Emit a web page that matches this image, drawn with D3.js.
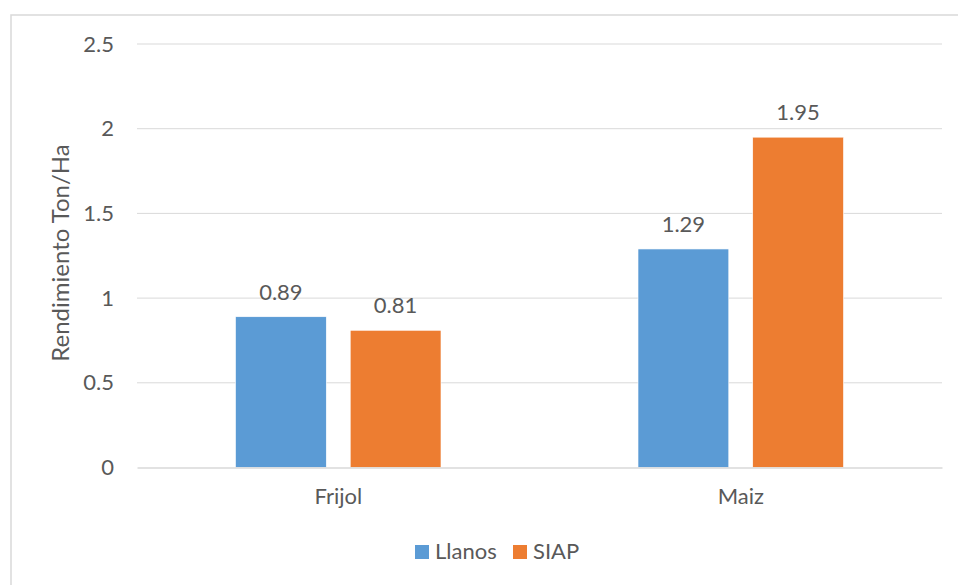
<!DOCTYPE html>
<html>
<head>
<meta charset="utf-8">
<script src="https://cdn.jsdelivr.net/npm/d3@7"></script>
<style>
  body { margin: 0; background: #fff; }
  text { font-family: Lato, "Open Sans", sans-serif; fill: #595959; }
</style>
</head>
<body>
<div id="viz"></div>
<script>
const categories = ['Frijol', 'Maiz'];
const seriesNames = ['Llanos', 'SIAP'];
const llanos = [0.89, 1.29];
const siap = [0.81, 1.95];
const yTickValues = [0, 0.5, 1, 1.5, 2, 2.5];

const colors = { Llanos: '#5B9BD5', SIAP: '#ED7D31' };
const data = categories.map((c, i) => ({ cat: c, values: [
  { key: 'Llanos', value: llanos[i] },
  { key: 'SIAP', value: siap[i] }
]}));

const width = 958, height = 585;
const plot = { left: 137, right: 942, top: 44, bottom: 467.5 };
const fontSize = 22;

const svg = d3.select('#viz').append('svg')
  .attr('width', width)
  .attr('height', height);

// chart frame
svg.append('rect')
  .attr('x', 11).attr('y', 15)
  .attr('width', 960).attr('height', 600)
  .attr('fill', '#fff')
  .attr('stroke', '#d9d9d9')
  .attr('stroke-width', 1.5);

const x0 = d3.scaleBand().domain(categories).range([plot.left, plot.right]);
const x1 = d3.scaleBand().domain(seriesNames)
  .range([0, x0.bandwidth()])
  .paddingInner(24 / 115)
  .paddingOuter(0.8587);
const y = d3.scaleLinear().domain([0, 2.5]).range([plot.bottom, plot.top]);

// gridlines
svg.append('g')
  .selectAll('line').data(yTickValues.filter(d => d > 0))
  .enter().append('line')
    .attr('x1', plot.left).attr('x2', plot.right)
    .attr('y1', d => y(d)).attr('y2', d => y(d))
    .attr('stroke', '#d9d9d9').attr('stroke-width', 1);

// y axis labels
const yAxis = svg.append('g')
  .attr('transform', `translate(${plot.left}, 0)`)
  .call(d3.axisLeft(y).tickValues(yTickValues).tickFormat(d3.format('~g')).tickSize(0).tickPadding(23));
yAxis.select('.domain').remove();
yAxis.selectAll('text').attr('font-size', fontSize).style('font-family', 'Lato, "Open Sans", sans-serif').attr('fill', '#595959');

// bars
const groups = svg.append('g').selectAll('g').data(data)
  .enter().append('g')
    .attr('transform', d => `translate(${x0(d.cat)}, 0)`);

groups.selectAll('rect').data(d => d.values)
  .enter().append('rect')
    .attr('x', d => x1(d.key))
    .attr('y', d => y(d.value))
    .attr('width', x1.bandwidth())
    .attr('height', d => y(0) - y(d.value))
    .attr('fill', d => colors[d.key])
    .attr('stroke', '#fff')
    .attr('stroke-width', 0.6);

groups.selectAll('text').data(d => d.values)
  .enter().append('text')
    .attr('x', d => x1(d.key) + x1.bandwidth() / 2)
    .attr('y', d => y(d.value) - 17)
    .attr('text-anchor', 'middle')
    .attr('font-size', fontSize)
    .text(d => d.value.toFixed(2));

// x axis
const xAxis = svg.append('g')
  .attr('transform', `translate(0, ${plot.bottom})`)
  .call(d3.axisBottom(x0).tickSize(0).tickPadding(21));
xAxis.select('.domain').attr('stroke', '#d9d9d9').attr('stroke-width', 1.5);
xAxis.selectAll('text').attr('font-size', fontSize).style('font-family', 'Lato, "Open Sans", sans-serif').attr('fill', '#595959');

// y title
svg.append('text')
  .attr('transform', `translate(69, 253) rotate(-90)`)
  .attr('text-anchor', 'middle')
  .attr('font-size', 24)
  .text('Rendimiento Ton/Ha');

// legend
const legend = svg.append('g').attr('transform', 'translate(415, 545)');
const legendX = [0, 98];
seriesNames.forEach((s, i) => {
  const g = legend.append('g').attr('transform', `translate(${legendX[i]}, 0)`);
  g.append('rect').attr('width', 14).attr('height', 14).attr('fill', colors[s]);
  g.append('text').attr('x', 20).attr('y', 14).attr('font-size', fontSize).text(s);
});
</script>
</body>
</html>
